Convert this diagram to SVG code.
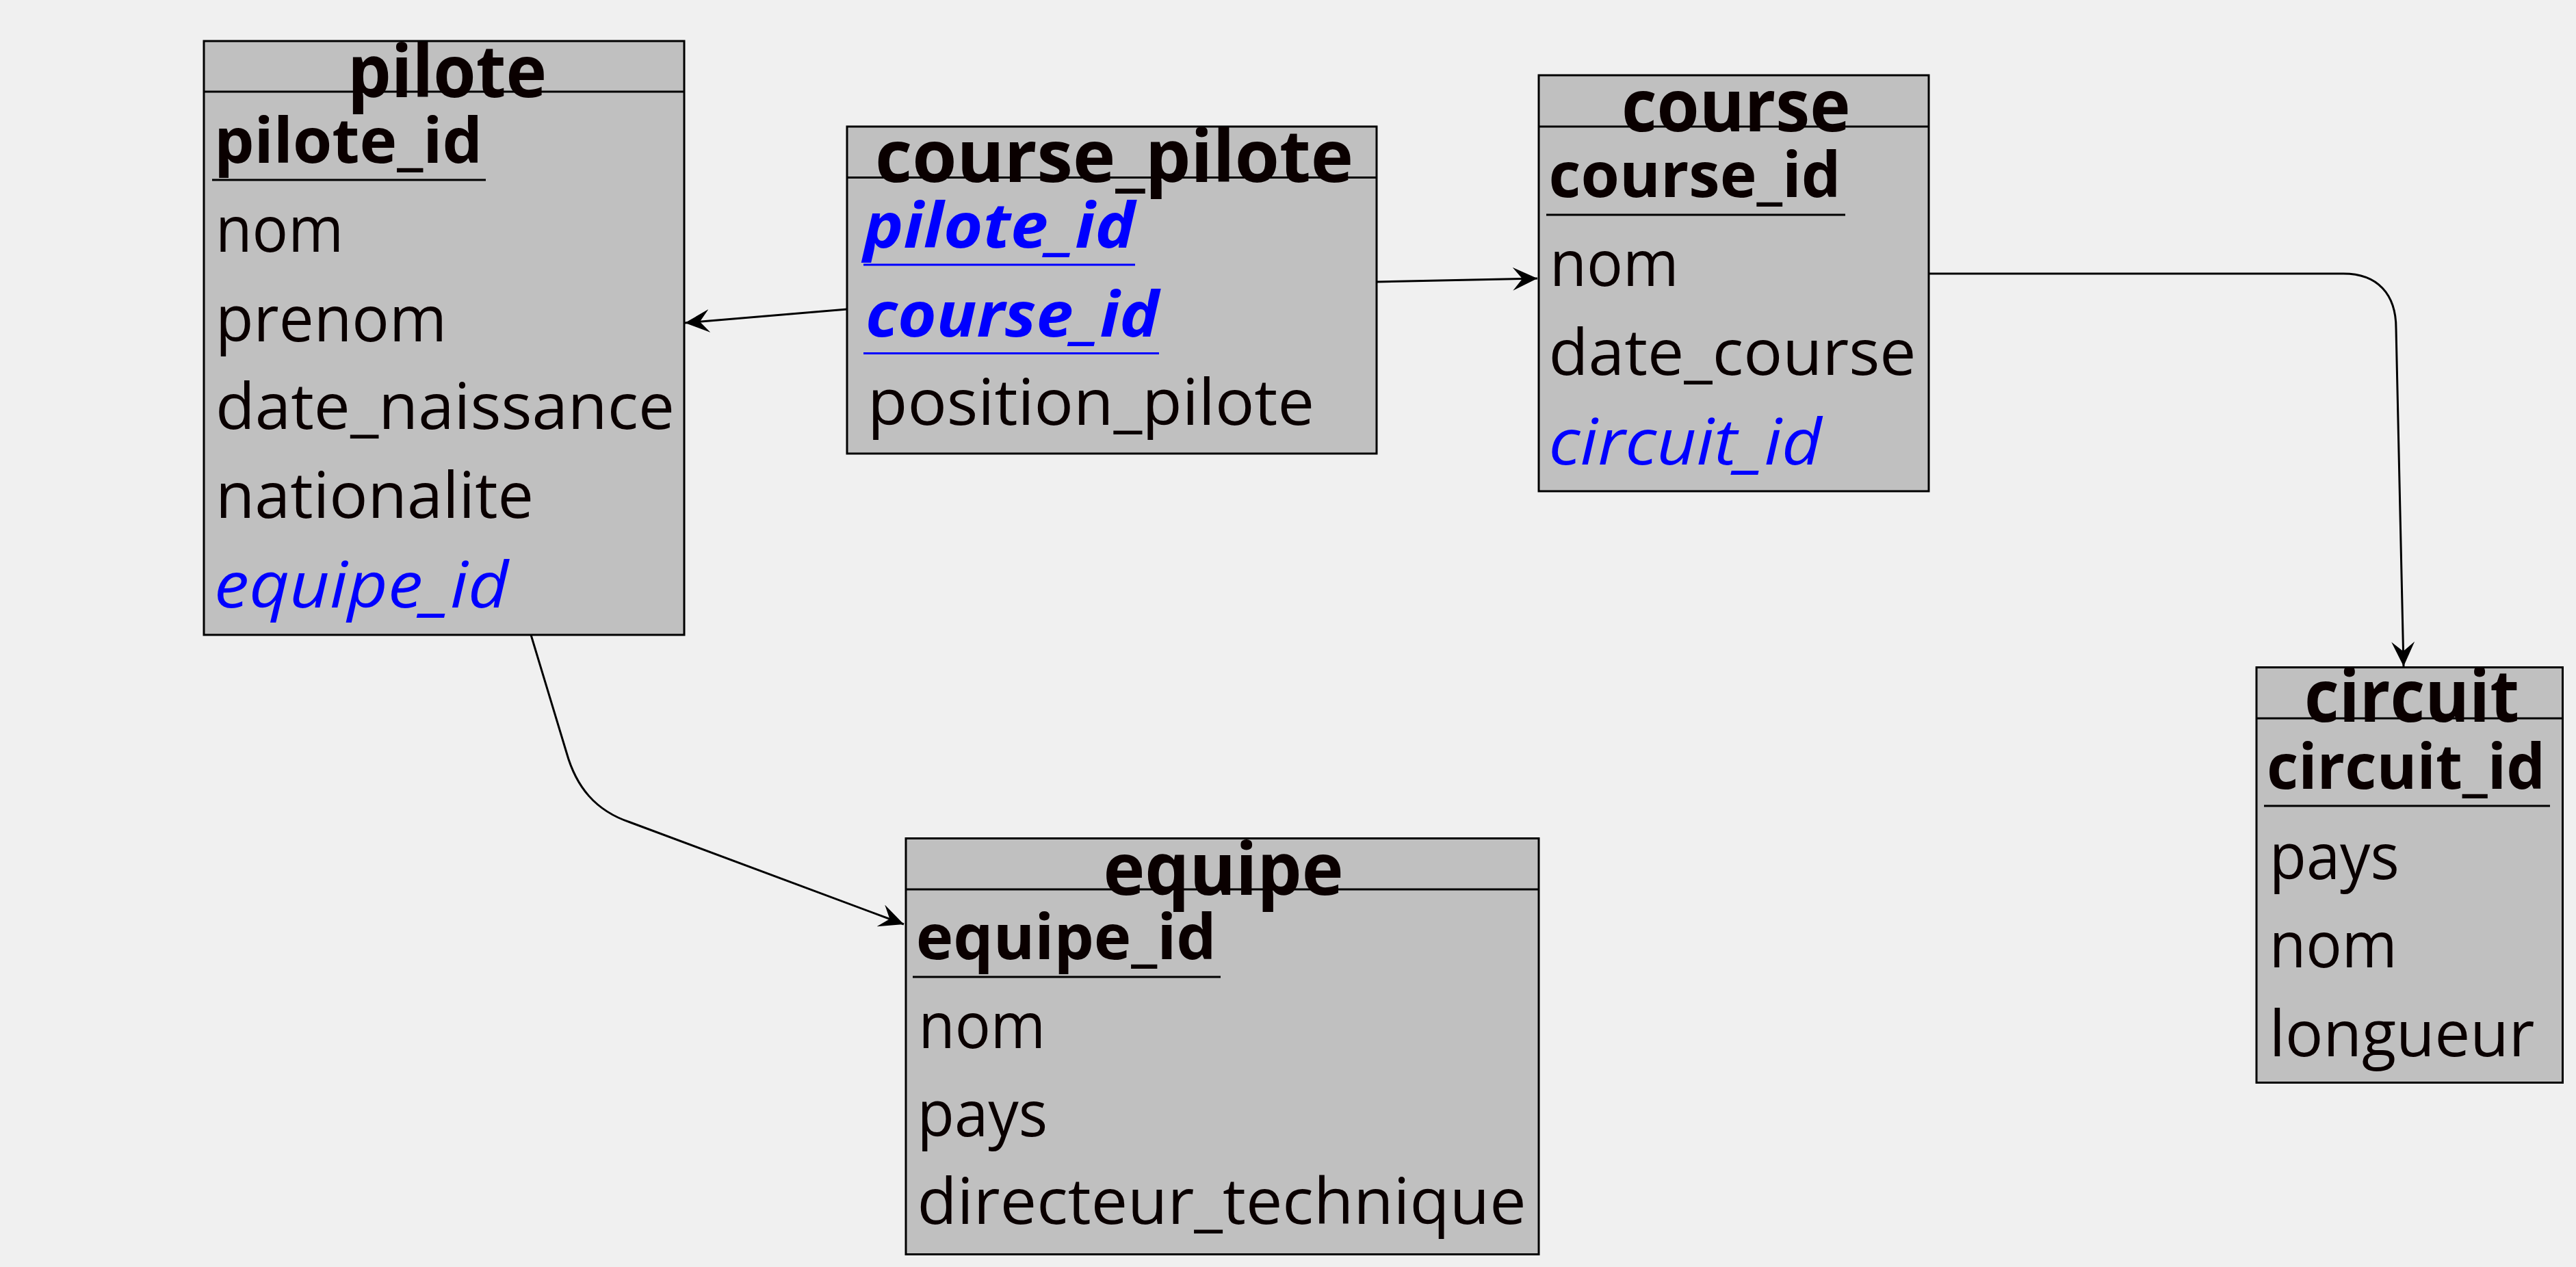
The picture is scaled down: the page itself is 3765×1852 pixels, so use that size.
<svg xmlns="http://www.w3.org/2000/svg" width="3765" height="1852" viewBox="0 0 3765 1852">
<style>
.bg{fill:#f0f0f0}
.box{fill:#c0c0c0;stroke:#000;stroke-width:3}
.sep{stroke:#000;stroke-width:3}
.ul{stroke:#000;stroke-width:3}
.ulb{stroke:#0000ff;stroke-width:3}
.t{font-family:"Open Sans","Noto Sans","DejaVu Sans",sans-serif;fill:#0a0000}
.title{font-weight:bold;font-size:105px}
.key{font-weight:bold;font-size:92px}
.col{font-size:94px}
.fk{font-style:italic;fill:#0000ff}
.fkk{font-style:italic;font-weight:bold;fill:#0000ff;font-size:92px}
.conn{fill:none;stroke:#000;stroke-width:3}
</style>
<defs>
<marker id="arr" viewBox="0 0 36 34" refX="36" refY="17" markerWidth="36" markerHeight="34" markerUnits="userSpaceOnUse" orient="auto">
<path d="M0,0 L36,17 L0,34 L14,17 Z" fill="#000"/>
</marker>
</defs>
<rect class="bg" x="0" y="0" width="3765" height="1852"/>

<g id="connectors">
<path class="conn" d="M1238,452 L1001,472" marker-end="url(#arr)"/>
<path class="conn" d="M2012,412 L2247,407" marker-end="url(#arr)"/>
<path class="conn" d="M2819,400 L3425,400 C3475,400 3502,430 3502,480 L3513,974" marker-end="url(#arr)"/>
<path class="conn" d="M776,928 L828,1100 C842,1150 870,1185 921,1202 L1321,1351" marker-end="url(#arr)"/>
</g>

<g id="pilote">
<rect class="box" x="298" y="60" width="702" height="868"/>
<line class="sep" x1="298" y1="134" x2="1000" y2="134"/>
<text class="t title" x="508" y="142" textLength="291" lengthAdjust="spacingAndGlyphs">pilote</text>
<text class="t key" x="313" y="238" textLength="392" lengthAdjust="spacingAndGlyphs">pilote_id</text>
<line class="ul" x1="310" y1="263" x2="710" y2="263"/>
<text class="t col" x="315" y="368" textLength="187" lengthAdjust="spacingAndGlyphs">nom</text>
<text class="t col" x="315" y="499" textLength="338" lengthAdjust="spacingAndGlyphs">prenom</text>
<text class="t col" x="315" y="627" textLength="671" lengthAdjust="spacingAndGlyphs">date_naissance</text>
<text class="t col" x="315" y="757" textLength="465" lengthAdjust="spacingAndGlyphs">nationalite</text>
<text class="t col fk" x="313" y="888" textLength="430" lengthAdjust="spacingAndGlyphs">equipe_id</text>
</g>

<g id="course_pilote">
<rect class="box" x="1238" y="185" width="774" height="478"/>
<line class="sep" x1="1238" y1="259.5" x2="2012" y2="259.5"/>
<text class="t title" x="1279" y="266" font-size="110" textLength="699" lengthAdjust="spacingAndGlyphs">course_pilote</text>
<text class="t fkk" x="1262" y="362" textLength="397" lengthAdjust="spacingAndGlyphs">pilote_id</text>
<line class="ulb" x1="1262" y1="387" x2="1659" y2="387"/>
<text class="t fkk" x="1265" y="492" textLength="429" lengthAdjust="spacingAndGlyphs">course_id</text>
<line class="ulb" x1="1262" y1="516.5" x2="1694" y2="516.5"/>
<text class="t col" x="1268" y="621" font-size="90" textLength="653" lengthAdjust="spacingAndGlyphs">position_pilote</text>
</g>

<g id="course">
<rect class="box" x="2249" y="110" width="570" height="608"/>
<line class="sep" x1="2249" y1="185" x2="2819" y2="185"/>
<text class="t title" x="2370" y="191.5" font-size="112" textLength="334.5" lengthAdjust="spacingAndGlyphs">course</text>
<text class="t key" x="2263.6" y="288" textLength="427" lengthAdjust="spacingAndGlyphs">course_id</text>
<line class="ul" x1="2260" y1="314" x2="2697" y2="314"/>
<text class="t col" x="2265" y="417.5" font-size="90" textLength="188.6" lengthAdjust="spacingAndGlyphs">nom</text>
<text class="t col" x="2263.6" y="548" font-size="90" textLength="537" lengthAdjust="spacingAndGlyphs">date_course</text>
<text class="t col fk" x="2263.6" y="678.6" font-size="90" textLength="399" lengthAdjust="spacingAndGlyphs">circuit_id</text>
</g>

<g id="circuit">
<rect class="box" x="3298" y="975.5" width="447.5" height="607"/>
<line class="sep" x1="3298" y1="1050" x2="3745.5" y2="1050"/>
<text class="t title" x="3368" y="1055" font-size="100" textLength="314" lengthAdjust="spacingAndGlyphs">circuit</text>
<text class="t key" x="3313" y="1153" font-size="88" textLength="407" lengthAdjust="spacingAndGlyphs">circuit_id</text>
<line class="ul" x1="3309" y1="1178" x2="3727" y2="1178"/>
<text class="t col" x="3316.7" y="1285" font-size="88" textLength="190" lengthAdjust="spacingAndGlyphs">pays</text>
<text class="t col" x="3316.7" y="1414" font-size="88" textLength="187" lengthAdjust="spacingAndGlyphs">nom</text>
<text class="t col" x="3316.7" y="1544" font-size="88" textLength="387.7" lengthAdjust="spacingAndGlyphs">longueur</text>
</g>

<g id="equipe">
<rect class="box" x="1324" y="1225.5" width="925" height="608"/>
<line class="sep" x1="1324" y1="1300" x2="2249" y2="1300"/>
<text class="t title" x="1612.5" y="1308" font-size="106" textLength="351" lengthAdjust="spacingAndGlyphs">equipe</text>
<text class="t key" x="1338.75" y="1402" font-size="88" textLength="439" lengthAdjust="spacingAndGlyphs">equipe_id</text>
<line class="ul" x1="1334" y1="1428" x2="1784" y2="1428"/>
<text class="t col" x="1342.5" y="1532" font-size="86" textLength="185.6" lengthAdjust="spacingAndGlyphs">nom</text>
<text class="t col" x="1340.6" y="1661" font-size="86" textLength="190.6" lengthAdjust="spacingAndGlyphs">pays</text>
<text class="t col" x="1340.6" y="1789" font-size="86" textLength="890" lengthAdjust="spacingAndGlyphs">directeur_technique</text>
</g>
</svg>
